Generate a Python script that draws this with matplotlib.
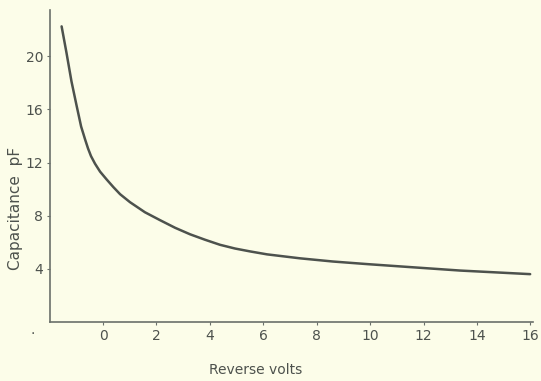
import matplotlib
matplotlib.use("Agg")
import matplotlib.pyplot as plt

volts = [-1.55, -1.37, -1.18, -0.99, -0.82, -0.67, -0.56, -0.45, -0.30, -0.11, 0.14, 0.39, 0.64,
         1.01, 1.57, 2.14, 2.70, 3.26, 3.82, 4.38, 4.94, 5.51, 6.14, 7.38, 8.61, 9.93, 11.50, 13.37, 15.99]
cap = [22.26, 20.30, 18.11, 16.30, 14.72, 13.74, 13.06, 12.49, 11.92, 11.32, 10.72, 10.15, 9.62,
       9.02, 8.26, 7.66, 7.09, 6.60, 6.19, 5.81, 5.53, 5.31, 5.09, 4.79, 4.55, 4.35, 4.13, 3.87, 3.60]
xticks = [0, 2, 4, 6, 8, 10, 12, 14, 16]
yticks = [4, 8, 12, 16, 20]

bg = "#fcfde9"
ink = "#4d524d"

fig = plt.figure(figsize=(5.41, 3.81), dpi=100, facecolor=bg)
ax = fig.add_axes([0.0924, 0.155, 0.893, 0.819], facecolor=bg)
ax.plot(volts, cap, color=ink, lw=1.8, solid_capstyle="round", solid_joinstyle="round")
ax.set_xlim(-1.985, 16.1)
ax.set_ylim(0, 23.5)
ax.set_xticks(xticks)
ax.set_yticks(yticks)
for s in ["top", "right"]:
    ax.spines[s].set_visible(False)
for s in ["left", "bottom"]:
    ax.spines[s].set_color("#6a706a")
    ax.spines[s].set_linewidth(1.2)
ax.tick_params(axis="both", colors="#6a706a", labelcolor=ink, labelsize=10, length=2, width=0.8, pad=3)
ax.set_xlabel("Reverse volts", fontsize=10, color=ink)
ax.xaxis.set_label_coords(0.425, -0.13)
ax.set_ylabel("Capacitance  pF", fontsize=11, color=ink)
ax.yaxis.set_label_coords(-0.056, 0.365)
fig.text(33 / 541, 1 - 334 / 381, ".", fontsize=10, color=ink, ha="center", va="baseline")
fig.savefig("out.png", dpi=100, facecolor=bg)
